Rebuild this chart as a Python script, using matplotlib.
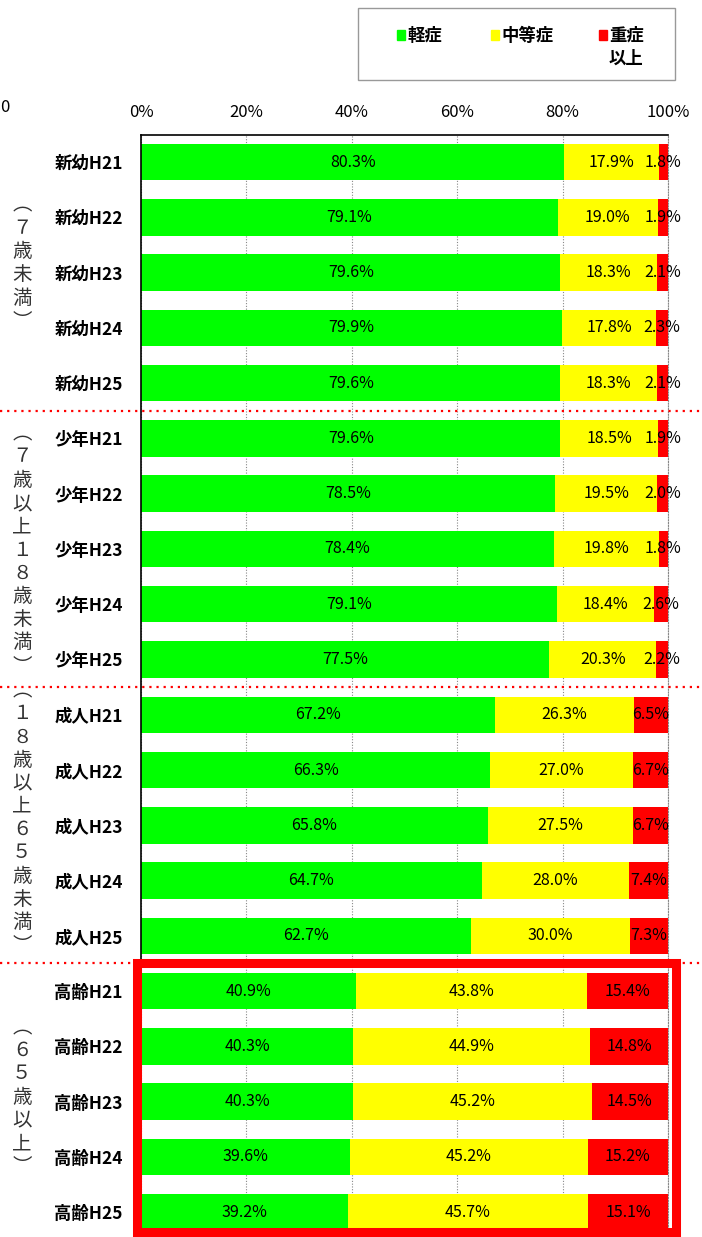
import matplotlib.pyplot as plt
import matplotlib.transforms as mtransforms
from matplotlib.patches import Rectangle
from matplotlib.lines import Line2D
import numpy as np

plt.rcParams['font.family'] = ['Noto Sans CJK JP', 'DejaVu Sans']

# data
categories = [
    '新幼H21', '新幼H22', '新幼H23', '新幼H24', '新幼H25',
    '少年H21', '少年H22', '少年H23', '少年H24', '少年H25',
    '成人H21', '成人H22', '成人H23', '成人H24', '成人H25',
    '高齢H21', '高齢H22', '高齢H23', '高齢H24', '高齢H25',
]
mild = [80.3, 79.1, 79.6, 79.9, 79.6,
        79.6, 78.5, 78.4, 79.1, 77.5,
        67.2, 66.3, 65.8, 64.7, 62.7,
        40.9, 40.3, 40.3, 39.6, 39.2]
moderate = [17.9, 19.0, 18.3, 17.8, 18.3,
            18.5, 19.5, 19.8, 18.4, 20.3,
            26.3, 27.0, 27.5, 28.0, 30.0,
            43.8, 44.9, 45.2, 45.2, 45.7]
severe = [1.8, 1.9, 2.1, 2.3, 2.1,
          1.9, 2.0, 1.8, 2.6, 2.2,
          6.5, 6.7, 6.7, 7.4, 7.3,
          15.4, 14.8, 14.5, 15.2, 15.1]
series_names = ['軽症', '中等症', '重症\n以上']
colors = ['#00ff00', '#ffff00', '#ff0000']
group_labels = ['︵７歳未満︶', '︵７歳以上１８歳未満︶',
                '︵１８歳以上６５歳未満︶', '︵６５歳以上︶']
group_sizes = [5, 5, 5, 5]
xticks = [0, 20, 40, 60, 80, 100]

W, H = 702, 1237
fig = plt.figure(figsize=(W / 100, H / 100), dpi=100)
ax = fig.add_axes([141 / W, 0, 527 / W, 1 - 135 / H])

vals = np.array([mild, moderate, severe])
pct = vals / vals.sum(axis=0) * 100
y = np.arange(len(categories))
left = np.zeros(len(categories))
for i in range(3):
    ax.barh(y, pct[i], left=left, height=0.66, color=colors[i], zorder=2)
    for yy, l, w, v in zip(y, left, pct[i], vals[i]):
        ax.text(l + w / 2, yy, f'{v:.1f}%', ha='center', va='center',
                fontsize=11.5, zorder=4)
    left += pct[i]

ax.set_xlim(0, 100)
ax.set_ylim(19.45, -0.49)
ax.set_yticks(y)
ax.set_yticklabels(categories, fontsize=12.5, fontweight='bold')
ax.set_xticks(xticks)
ax.set_xticklabels([f'{t}%' for t in xticks], fontsize=12)
ax.xaxis.tick_top()
ax.tick_params(axis='x', length=0, pad=10)
ax.tick_params(axis='y', length=0, pad=13)
ax.grid(axis='x', color='#888888', linestyle=(0, (1, 1.5)), linewidth=0.8, zorder=1)
ax.spines['bottom'].set_visible(False)
ax.spines['right'].set_color('#888888')
ax.spines['right'].set_linestyle((0, (1, 1.5)))
ax.spines['left'].set_linewidth(1.2)
ax.spines['top'].set_linewidth(1.2)

# group separators
blend = mtransforms.blended_transform_factory(fig.transFigure, ax.transData)
bounds = np.cumsum(group_sizes)[:-1] - 0.5
for b in bounds:
    fig.add_artist(Line2D([0, 1], [b, b], transform=blend, color='#ff0000',
                          linewidth=1.6, linestyle=(0, (1, 2.2))))

# vertical group labels
gblend = mtransforms.blended_transform_factory(ax.transAxes, ax.transData)
centers = [1.83, 7.02, 11.87, 16.92]
pitch = 0.42
for lab, c in zip(group_labels, centers):
    n = len(lab)
    for k, ch in enumerate(lab):
        ax.text(-0.226, c + (k - (n - 1) / 2) * pitch, ch, transform=gblend,
                ha='center', va='center', fontsize=14, color='#333333',
                clip_on=False)

# highlight box around the elderly group
ax.add_patch(Rectangle((-0.0076, 14.5), 1.023, 4.86, transform=gblend,
                       fill=False, edgecolor='#ff0000', linewidth=6.5,
                       clip_on=False, zorder=5))

# legend
fig.add_artist(Rectangle((358 / W, 1 - 80 / H), 317 / W, 72 / H,
                         transform=fig.transFigure, fill=False,
                         edgecolor='#999999', linewidth=1))
lx = [397, 491, 599]
for x0, name, c in zip(lx, series_names, colors):
    fig.add_artist(Rectangle((x0 / W, 1 - 40 / H), 8 / W, 10 / H,
                             transform=fig.transFigure, color=c))
    fig.text((x0 + 10) / W, 1 - 27 / H, name, ha='left', va='top',
             fontsize=12.5, fontweight='bold', linespacing=1.35)

fig.text(0, 1 - 108 / H, '0', ha='left', va='center', fontsize=12)

fig.savefig('out.png', dpi=100)
